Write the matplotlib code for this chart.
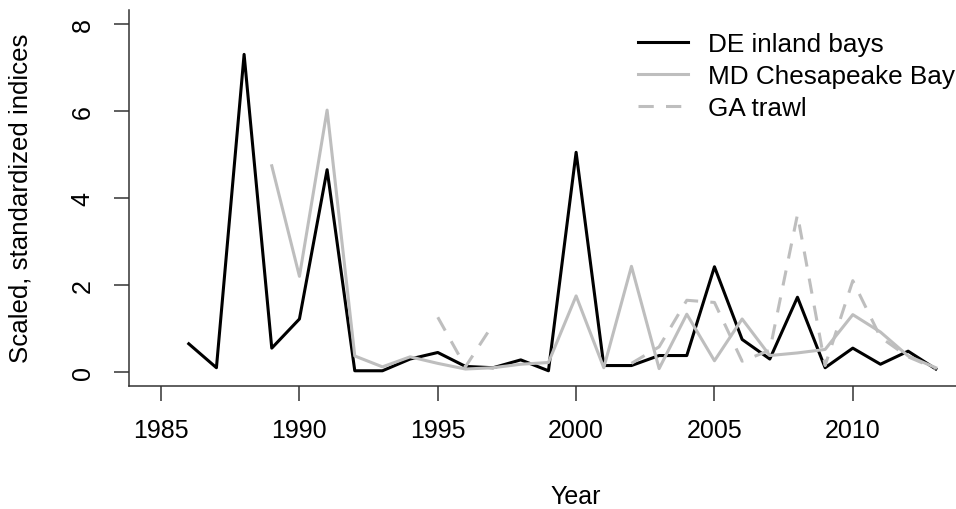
import numpy as np
import matplotlib
matplotlib.use("Agg")
import matplotlib.pyplot as plt

nan = np.nan
years = np.arange(1986, 2014)
de_inland = [0.65, 0.10, 7.30, 0.55, 1.22, 4.65, 0.03, 0.03, 0.30, 0.45,
             0.13, 0.10, 0.28, 0.03, 5.05, 0.15, 0.15, 0.38, 0.38, 2.42,
             0.75, 0.30, 1.72, 0.10, 0.55, 0.18, 0.48, 0.07]
md_chesapeake = [nan, nan, nan, 4.74, 2.20, 6.02, 0.37, 0.12, 0.35, 0.20,
                 0.07, 0.10, 0.18, 0.22, 1.75, 0.10, 2.43, 0.08, 1.33, 0.26,
                 1.22, 0.38, 0.44, 0.52, 1.32, 0.92, 0.37, 0.10]
ga_trawl = [nan, nan, nan, nan, nan, nan, nan, nan, nan, 1.26,
            0.12, 1.10, nan, nan, nan, nan, 0.20, 0.58, 1.65, 1.60,
            0.25, 0.50, 3.62, 0.15, 2.10, 0.80, 0.35, 0.08]
xticks = [1985, 1990, 1995, 2000, 2005, 2010]
yticks = [0, 2, 4, 6, 8]

plt.rcParams["font.family"] = ["Liberation Sans", "DejaVu Sans"]
fs = 18
grey = "#BEBEBE"

fig = plt.figure(figsize=(9.56, 5.10), dpi=100)
ax = fig.add_axes([129 / 956, 1 - 387 / 510, 1 - 129 / 956, (387 - 11) / 510])

ax.plot(years, de_inland, color="black", lw=2.2, label="DE inland bays")
ax.plot(years, md_chesapeake, color=grey, lw=2.2, label="MD Chesapeake Bay")
ax.plot(years, ga_trawl, color=grey, lw=2.2, dashes=(5, 4), label="GA trawl")

ax.set_xlim(1983.84, 2013.73)
ax.set_ylim(-0.32, 8.32)
ax.set_xticks(xticks)
ax.set_yticks(yticks)
ax.spines["top"].set_visible(False)
ax.spines["right"].set_visible(False)
for s in ["left", "bottom"]:
    ax.spines[s].set_linewidth(1.1)
    ax.spines[s].set_color("#333333")
ax.tick_params(direction="out", length=10.8, width=1.1, color="#333333",
               labelsize=fs)
ax.tick_params(axis="x", pad=12)
ax.tick_params(axis="y", pad=14)
for lab in ax.get_yticklabels():
    lab.set_rotation(90)
    lab.set_va("center")

fig.text(576 / 956, 1 - 497 / 510, "Year", ha="center", va="center", fontsize=fs)
fig.text(21 / 956, 1 - 198 / 510, "Scaled, standardized indices", ha="center",
         va="center", rotation=90, fontsize=18.6)

ax.legend(loc="upper left", bbox_to_anchor=(638 / 956, 1 - 33 / 510),
          bbox_transform=fig.transFigure, frameon=False, fontsize=18.8,
          handlelength=1.9, handletextpad=0.8, labelspacing=0.3,
          borderpad=0, borderaxespad=0)

fig.savefig("out.png", dpi=100)
